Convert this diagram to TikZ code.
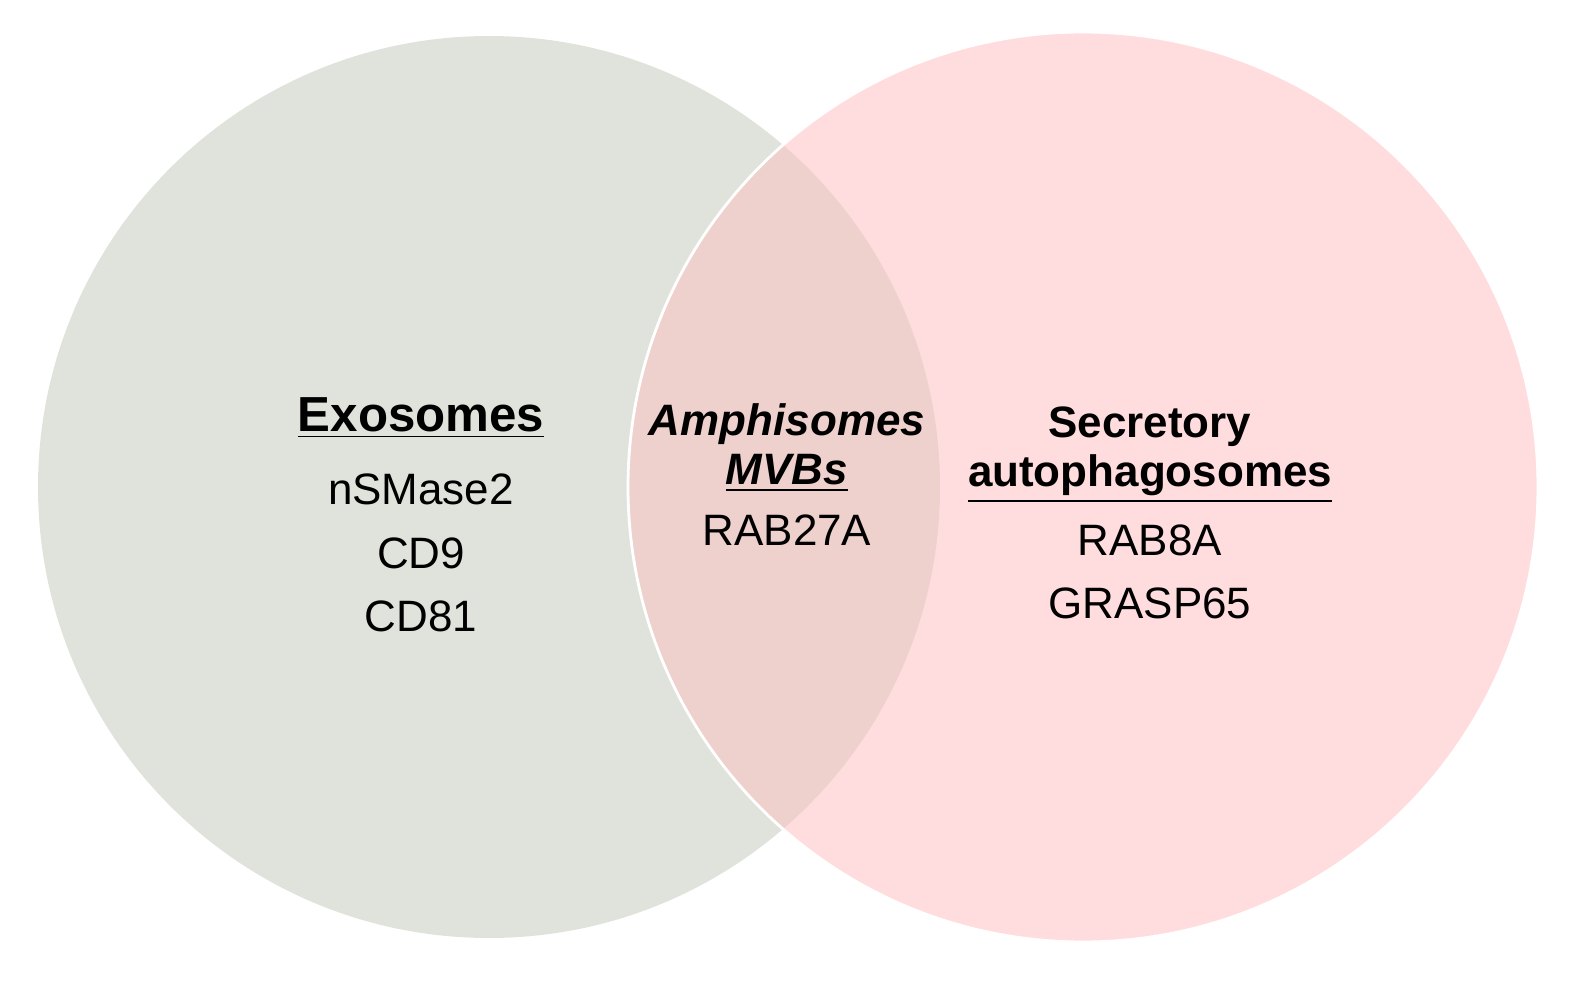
\documentclass[tikz,border=0pt]{standalone}
\usepackage{fontspec}
\setmainfont{Liberation Sans}
\definecolor{lgrey}{RGB}{224,227,219}
\definecolor{lpink}{RGB}{255,221,222}
\definecolor{lover}{RGB}{238,208,205}
\begin{document}
\begin{tikzpicture}[x=0.01cm,y=-0.01cm,
  lbl/.style={font=\fontsize{12.5}{15}\selectfont,align=center},
  hd/.style={font=\fontsize{12.5}{15}\selectfont\bfseries,align=center}]
\useasboundingbox (0,0) rectangle (1590,997);
\fill[lgrey] (489,487) circle (451);
\fill[lpink] (1083,487) circle (455);
\begin{scope}
\clip (489,487) circle (451);
\fill[lover] (1083,487) circle (455);
\end{scope}
\draw[white,line width=0.8pt] (1083,487) circle (455);
\node[hd,font=\fontsize{14}{16}\selectfont\bfseries] (exo) at (421,418) {\underline{Exosomes}};
\node[lbl] (exol) at (421,553) {nSMase2\\[3pt]CD9\\[3pt]CD81};
\node[hd] (amp) at (787,448) {\textit{Amphisomes}\\[-1pt]\underline{\textit{MVBs}}};
\node[lbl] (ampl) at (787,530) {RAB27A};
\node[hd] (sec) at (1150,455) {Secretory\\[-1pt]\underline{autophagosomes}};
\node[lbl] (secl) at (1150,572) {RAB8A\\[3pt]GRASP65};
\end{tikzpicture}
\end{document}
